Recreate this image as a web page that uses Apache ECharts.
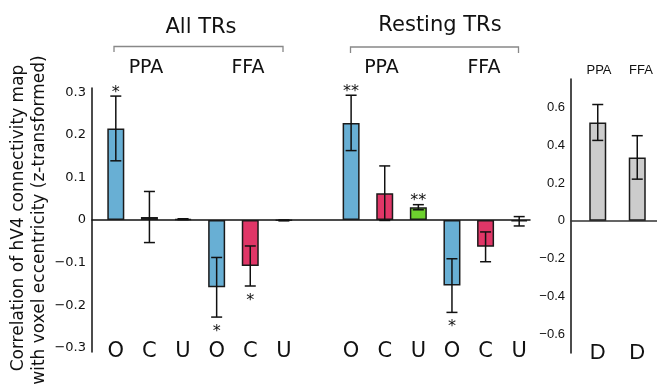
<!DOCTYPE html>
<html>
<head>
<meta charset="utf-8">
<script src="https://cdn.jsdelivr.net/npm/echarts@6/dist/echarts.min.js"></script>
<style>
  html, body { margin: 0; padding: 0; background: #fff; }
  #chart { width: 657px; height: 384px; }
</style>
</head>
<body>
<div id="chart"></div>
<script>
// left panel: All TRs (PPA, FFA) | gap | Resting TRs (PPA, FFA)
const leftCats = ['O', 'C', 'U', 'O', 'C', 'U', '', 'O', 'C', 'U', 'O', 'C', 'U']
const leftMeans = [0.215, 0.007, 0.002, -0.158, -0.108, -0.001, null, 0.228, 0.063, 0.030, -0.154, -0.063, -0.003]
const leftErrs = [0.076, 0.060, 0.001, 0.070, 0.047, 0.001, null, 0.065, 0.064, 0.006, 0.063, 0.035, 0.011]
const leftStars = ['*', '', '', '*', '*', '', '', '**', '', '**', '*', '', '']

// right panel
const rightCats = ['D', 'D']
const rightNames = ['PPA', 'FFA']
const rightMeans = [0.52, 0.335]
const rightErrs = [0.095, 0.115]

const colorOf = { O: '#68afd4', C: '#e03667', U: '#6dd12e', D: '#cccccc' }

const leftFont = 'DejaVu Sans'
const rightFont = 'Liberation Sans'

function leftLabel(v){
    const k = Math.round(v * 100)
    if (Math.abs(v * 100 - k) > 0.01 || k % 10 !== 0) return ''
    if (k === 0) return '0'
    return (k < 0 ? '\u2212' : '') + (Math.abs(k) / 100).toFixed(1)
}
function rightLabel(v){
    const k = Math.round(v * 10)
    if (Math.abs(v * 10 - k) > 0.01 || k % 2 !== 0 || Math.abs(k) > 6) return ''
    if (k === 0) return '0'
    return (k < 0 ? '\u2212' : '') + (Math.abs(k) / 10).toFixed(1)
}

function barData(cats, means){
    return means.map((m, i) => m === null ? null : {
        value: m,
        itemStyle: { color: colorOf[cats[i]] }
    })
}

function errData(means, errs){
    const out = []
    means.forEach((m, i) => {
        if (m === null) return
        out.push([i, m, errs[i]])
    })
    return out
}

function errRender(starList){
    return function(params, api){
        const i = api.value(0), m = api.value(1), e = api.value(2)
        const top = api.coord([i, m + e])
        const bot = api.coord([i, m - e])
        const cap = 5.5
        const st = { stroke: '#111', lineWidth: 1.5 }
        const children = [
            { type: 'line', shape: { x1: top[0], y1: top[1], x2: bot[0], y2: bot[1] }, style: st },
            { type: 'line', shape: { x1: top[0] - cap, y1: top[1], x2: top[0] + cap, y2: top[1] }, style: st },
            { type: 'line', shape: { x1: bot[0] - cap, y1: bot[1], x2: bot[0] + cap, y2: bot[1] }, style: st }
        ]
        const s = starList ? starList[i] : ''
        if (s) {
            const y = m >= 0 ? top[1] - 3.5 : bot[1] + 14.5
            children.push({
                type: 'text',
                style: {
                    text: s, x: top[0], y: y,
                    font: '16px "DejaVu Sans"', fill: '#111',
                    align: 'center', verticalAlign: 'middle',
                    textAlign: 'center', textVerticalAlign: 'middle'
                }
            })
        }
        return { type: 'group', children: children }
    }
}

function txt(text, x, y, size, family, rot){
    return {
        type: 'text', x: x, y: y, rotation: rot || 0,
        style: {
            text: text, font: size + 'px "' + family + '"', fill: '#111',
            align: 'center', verticalAlign: 'middle',
            textAlign: 'center', textVerticalAlign: 'middle'
        }
    }
}
function bracket(x1, x2, yTop, yBot){
    return {
        type: 'polyline',
        shape: { points: [[x1, yBot], [x1, yTop], [x2, yTop], [x2, yBot]] },
        style: { stroke: '#888', lineWidth: 1.3, fill: null }
    }
}

// zero line axes live in their own grids so they start at the y axis line
function zeroX(grid, color){
    return {
        gridIndex: grid, type: 'value', min: 0, max: 1, position: 'top',
        axisLine: { show: true, onZero: true, lineStyle: { color: color, width: 1.5 } },
        axisTick: { show: false }, axisLabel: { show: false }, splitLine: { show: false }
    }
}
function hiddenY(grid, min, max){
    return { gridIndex: grid, type: 'value', min: min, max: max, show: false }
}

const chart = echarts.init(document.getElementById('chart'), null, { renderer: 'canvas' })

chart.setOption({
    animation: false,
    backgroundColor: '#fff',
    grid: [
        { left: 99, top: 88, width: 437, height: 264 },
        { left: 578, top: 79, width: 84, height: 274 },
        { left: 92, top: 88, width: 438, height: 264 },
        { left: 571, top: 79, right: 0, height: 274 }
    ],
    xAxis: [
        {
            gridIndex: 0, type: 'category', data: leftCats, position: 'bottom',
            axisLine: { show: false, onZero: false }, axisTick: { show: false },
            axisLabel: { interval: 0, margin: -11, color: '#111', fontFamily: leftFont, fontSize: 21 }
        },
        {
            gridIndex: 1, type: 'category', data: rightCats, position: 'bottom',
            axisLine: { show: false, onZero: false }, axisTick: { show: false },
            axisLabel: { interval: 0, margin: -11, color: '#111', fontFamily: rightFont, fontSize: 22 }
        },
        zeroX(2, '#111'),
        zeroX(3, '#333')
    ],
    yAxis: [
        {
            gridIndex: 0, type: 'value', min: -0.31, max: 0.31, interval: 0.01, offset: 7,
            axisLine: { show: true, lineStyle: { color: '#111', width: 1.5 } },
            axisTick: { show: false }, splitLine: { show: false },
            axisLabel: { interval: 0, margin: 6, formatter: leftLabel, color: '#111', fontFamily: leftFont, fontSize: 13 }
        },
        {
            gridIndex: 1, type: 'value', min: -0.7, max: 0.75, interval: 0.1, offset: 7,
            axisLine: { show: true, lineStyle: { color: '#111', width: 1.5 } },
            axisTick: { show: false }, splitLine: { show: false },
            axisLabel: { interval: 0, margin: 6, formatter: rightLabel, color: '#111', fontFamily: rightFont, fontSize: 13 }
        },
        hiddenY(2, -0.31, 0.31),
        hiddenY(3, -0.7, 0.75)
    ],
    series: [
        {
            type: 'bar', xAxisIndex: 0, yAxisIndex: 0, barWidth: 17,
            data: barData(leftCats, leftMeans),
            itemStyle: { borderColor: '#1a1a1a', borderWidth: 1.5 }
        },
        {
            type: 'custom', xAxisIndex: 0, yAxisIndex: 0, z: 5,
            renderItem: errRender(leftStars),
            encode: { x: 0, y: 1 },
            data: errData(leftMeans, leftErrs)
        },
        {
            type: 'bar', xAxisIndex: 1, yAxisIndex: 1, barWidth: 17,
            data: barData(rightCats, rightMeans),
            itemStyle: { borderColor: '#1a1a1a', borderWidth: 1.5 }
        },
        {
            type: 'custom', xAxisIndex: 1, yAxisIndex: 1, z: 5,
            renderItem: errRender(null),
            encode: { x: 0, y: 1 },
            data: errData(rightMeans, rightErrs)
        }
    ],
    graphic: [
        txt('All TRs', 201, 28, 21, leftFont),
        bracket(114, 283, 46.5, 52),
        txt('PPA', 146, 68.5, 19, leftFont),
        txt('FFA', 248, 68.5, 19, leftFont),
        txt('Resting TRs', 440, 25.5, 21, leftFont),
        bracket(350.5, 518.5, 47, 53),
        txt('PPA', 381.5, 68.5, 19, leftFont),
        txt('FFA', 484, 68.5, 19, leftFont),
        txt(rightNames[0], 599, 70, 13, rightFont),
        txt(rightNames[1], 641, 70, 13, rightFont),
        txt('Correlation of hV4 connectivity map', 19, 218, 17, leftFont, Math.PI / 2),
        txt('with voxel eccentricity (z-transformed)', 40, 220, 17, leftFont, Math.PI / 2)
    ]
})
</script>
</body>
</html>
